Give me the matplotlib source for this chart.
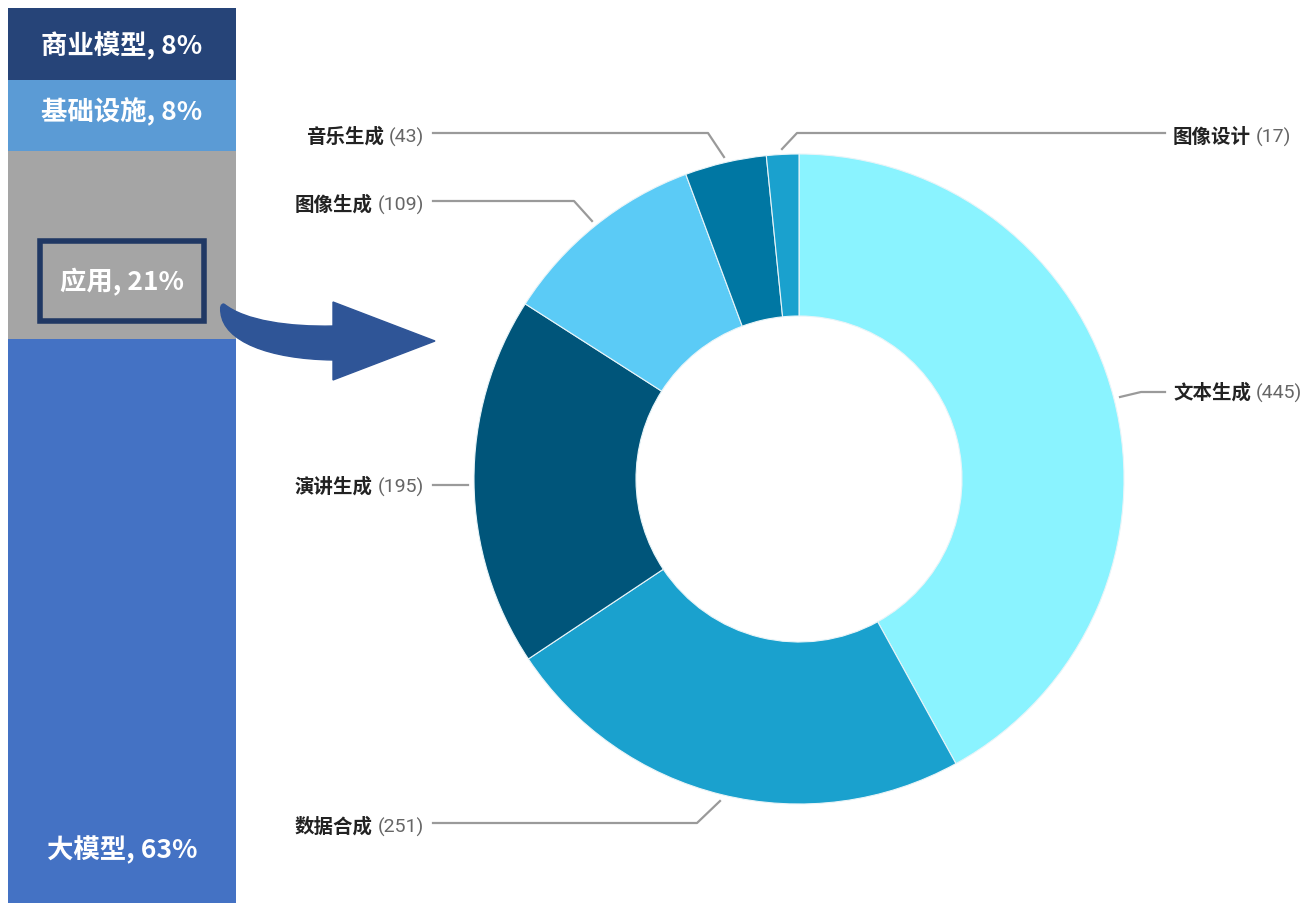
import matplotlib.pyplot as plt
from matplotlib.path import Path
from matplotlib.patches import PathPatch, Rectangle

plt.rcParams['font.family'] = ['Noto Sans CJK SC', 'DejaVu Sans']

# 左侧堆叠条
bar_names = ['大模型', '应用', '基础设施', '商业模型']
bar_pcts = [63, 21, 8, 8]
bar_colors = ['#4472C4', '#A5A5A5', '#5B9BD5', '#264478']

# 环形图
app_names = ['文本生成', '数据合成', '演讲生成', '图像生成', '音乐生成', '图像设计']
app_counts = [445, 251, 195, 109, 43, 17]
app_colors = ['#8AF3FF', '#1AA1CE', '#00557A', '#5BCBF6', '#0077A3', '#1AA1CE']

H = 904  # 像素高度, 用于把图片坐标转成数据坐标


def fy(y):
    return H - y


fig = plt.figure(figsize=(13.04, 9.04), dpi=100)

# ---- 堆叠条 ----
axb = fig.add_axes([8 / 1304, 0, 228 / 1304, 895 / 904])
bottom = 0
for name, p, c in zip(bar_names, bar_pcts, bar_colors):
    axb.bar(0.5, p, width=1, bottom=bottom, color=c, linewidth=0)
    bottom += p
axb.set_xlim(0, 1)
axb.set_ylim(0, 100)
axb.axis('off')

# ---- 覆盖层(像素坐标) ----
ax = fig.add_axes([0, 0, 1, 1])
ax.patch.set_alpha(0)

# 条形标签
bar_label_y = {'商业模型': 46, '基础设施': 112, '应用': 282, '大模型': 850}
for name, p in zip(bar_names, bar_pcts):
    ax.text(122, fy(bar_label_y[name]), f'{name}, {p}%', color='white', fontsize=19,
            fontweight='bold', ha='center', va='center')
ax.add_patch(Rectangle((40, fy(322)), 164, 80, fill=False, edgecolor='#203864', linewidth=4))

# 弯箭头
pts = [(224, 305), (245, 322), (290, 328), (333, 327), (333, 303), (435, 342), (333, 381),
       (333, 361), (268, 360), (224, 342), (221, 314), (220, 308), (221, 305), (224, 305)]
codes = [Path.MOVETO, Path.CURVE4, Path.CURVE4, Path.CURVE4, Path.LINETO, Path.LINETO,
         Path.LINETO, Path.LINETO, Path.CURVE4, Path.CURVE4, Path.CURVE4,
         Path.CURVE4, Path.CURVE4, Path.CURVE4]
ax.add_patch(PathPatch(Path([(x, fy(y)) for x, y in pts], codes), facecolor='#2F5597',
                       edgecolor='#2F5597', linewidth=1, zorder=5))

# 环形
ax.pie(app_counts, colors=app_colors, radius=325, center=(799, fy(480)), startangle=90,
       counterclock=False, wedgeprops=dict(width=162, edgecolor='#E8F4F8', linewidth=0.8))

# 引线和标签 (side, 文字x, 文字y, 引线点)
layout = {
    '文本生成': ('r', 1173, 393, [(1120, 398), (1141, 393), (1165, 393)]),
    '数据合成': ('l', 424, 827, [(433, 824), (697, 824), (720, 802)]),
    '演讲生成': ('l', 424, 487, [(433, 486), (468, 486)]),
    '图像生成': ('l', 424, 205, [(433, 202), (574, 202), (592, 222)]),
    '音乐生成': ('l', 424, 137, [(433, 134), (708, 134), (724, 158)]),
    '图像设计': ('r', 1173, 137, [(782, 150), (797, 134), (1165, 134)]),
}
num_font = ['Roboto', 'DejaVu Sans']
fig.canvas.draw()
r = fig.canvas.get_renderer()
for name, n in zip(app_names, app_counts):
    side, tx, ty, line = layout[name]
    ax.plot([p[0] for p in line], [fy(p[1]) for p in line], color='#9A9A9A', linewidth=1.6)
    if side == 'l':
        t = ax.text(tx, fy(ty), f'({n})', color='#666666', fontsize=14, family=num_font,
                    ha='right', va='center')
        w = t.get_window_extent(r).width
        ax.text(tx - w - 5, fy(ty), name, color='#222222', fontsize=14, fontweight='bold',
                ha='right', va='center')
    else:
        t = ax.text(tx, fy(ty), name, color='#222222', fontsize=14, fontweight='bold',
                    ha='left', va='center')
        w = t.get_window_extent(r).width
        ax.text(tx + w + 5, fy(ty), f'({n})', color='#666666', fontsize=14, family=num_font,
                ha='left', va='center')

ax.set_xlim(0, 1304)
ax.set_ylim(0, 904)
ax.set_aspect('auto')
ax.axis('off')

plt.savefig('out.png', dpi=100)
